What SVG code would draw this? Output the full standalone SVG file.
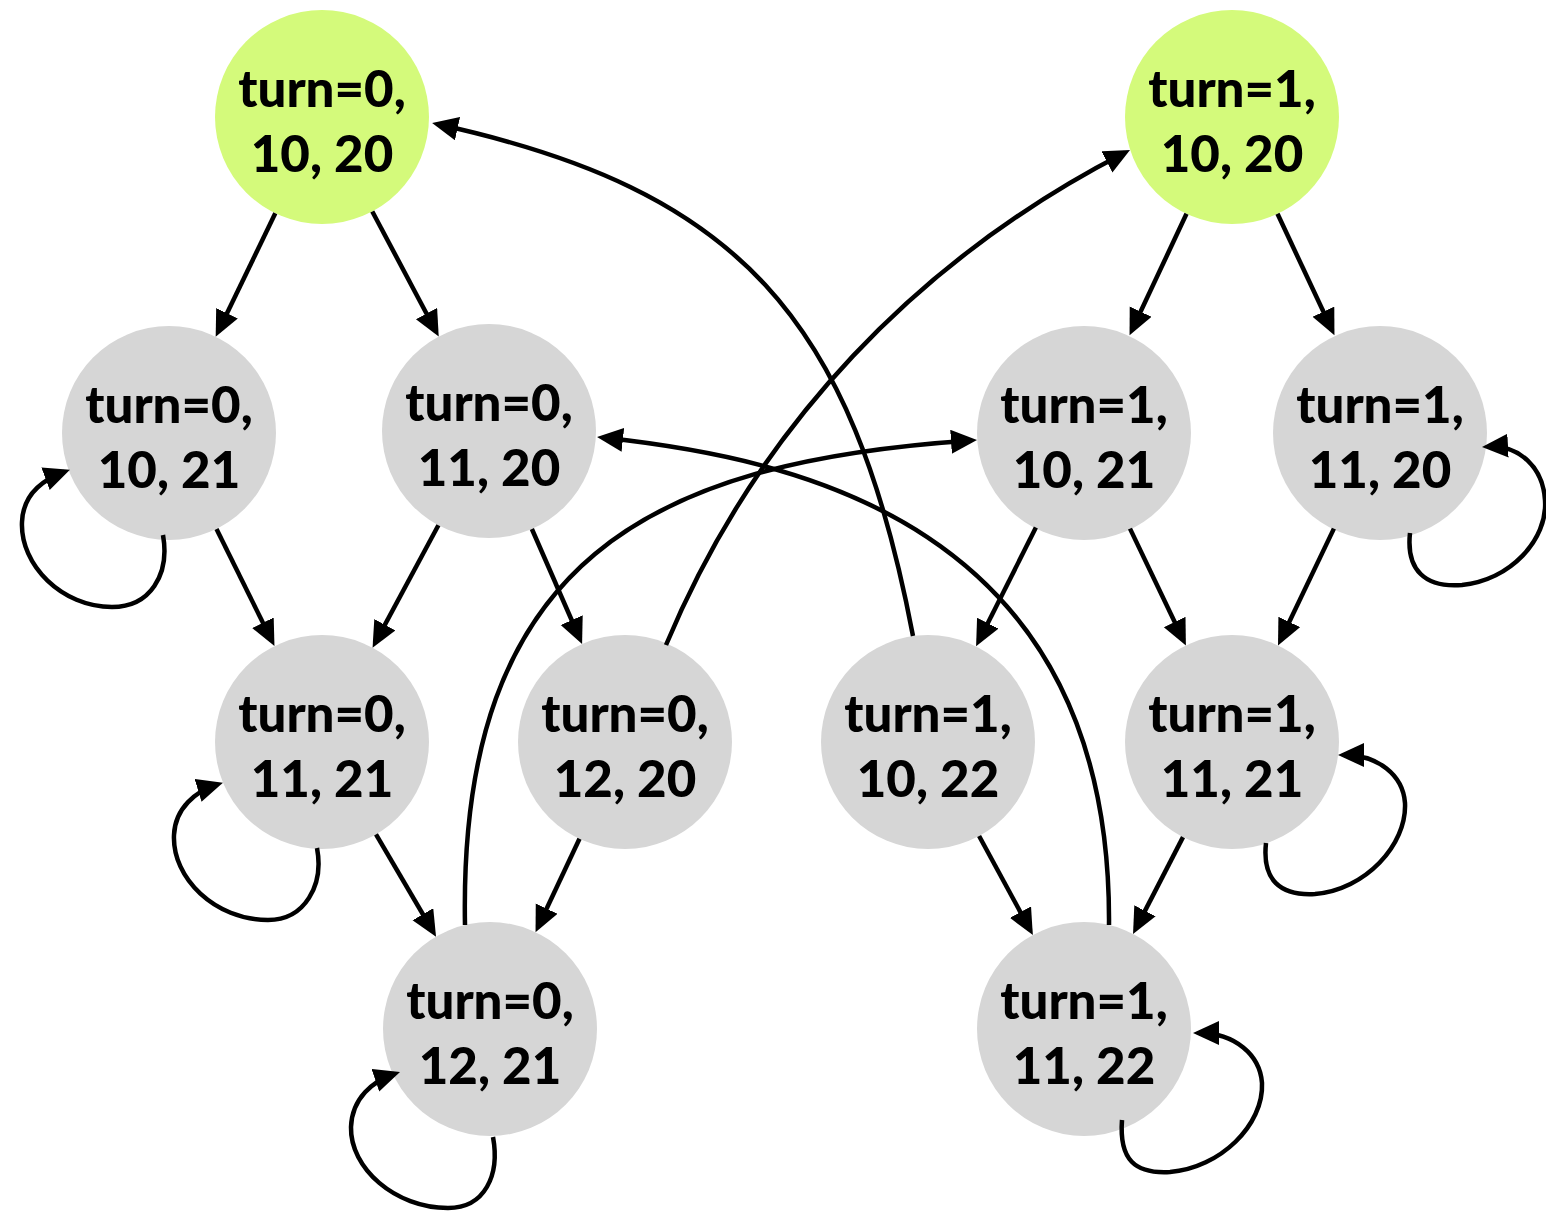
<svg xmlns="http://www.w3.org/2000/svg" width="1546" height="1212" viewBox="0 0 1546 1212">
<style>
.start{fill:#d4fa7b}
.state{fill:#d6d6d6}
.lbl{font-family:Lato,"Open Sans","Liberation Sans",sans-serif;font-weight:900;font-size:51px;fill:#000;text-anchor:middle}
.e{fill:none;stroke:#000;stroke-width:4.5;marker-end:url(#ah)}
</style>
<defs>
<marker id="ah" markerUnits="userSpaceOnUse" markerWidth="28" markerHeight="26" refX="20" refY="12" orient="auto" viewBox="0 0 28 26">
<path d="M0,0 L26,12 L0,24 Z" fill="#000"/>
</marker>
</defs>
<g id="n_t0_10_20"><circle class="start" cx="322" cy="117" r="107"/><text class="lbl" x="322" y="107">turn=0,</text><text class="lbl" x="322" y="172">10, 20</text></g>
<g id="n_t1_10_20"><circle class="start" cx="1232" cy="117" r="107"/><text class="lbl" x="1232" y="107">turn=1,</text><text class="lbl" x="1232" y="172">10, 20</text></g>
<g id="n_t0_10_21"><circle class="state" cx="169" cy="433" r="107"/><text class="lbl" x="169" y="423">turn=0,</text><text class="lbl" x="169" y="488">10, 21</text></g>
<g id="n_t0_11_20"><circle class="state" cx="489" cy="431" r="107"/><text class="lbl" x="489" y="421">turn=0,</text><text class="lbl" x="489" y="486">11, 20</text></g>
<g id="n_t1_10_21"><circle class="state" cx="1084" cy="433" r="107"/><text class="lbl" x="1084" y="423">turn=1,</text><text class="lbl" x="1084" y="488">10, 21</text></g>
<g id="n_t1_11_20"><circle class="state" cx="1380" cy="433" r="107"/><text class="lbl" x="1380" y="423">turn=1,</text><text class="lbl" x="1380" y="488">11, 20</text></g>
<g id="n_t0_11_21"><circle class="state" cx="322" cy="742" r="107"/><text class="lbl" x="322" y="732">turn=0,</text><text class="lbl" x="322" y="797">11, 21</text></g>
<g id="n_t0_12_20"><circle class="state" cx="625" cy="742" r="107"/><text class="lbl" x="625" y="732">turn=0,</text><text class="lbl" x="625" y="797">12, 20</text></g>
<g id="n_t1_10_22"><circle class="state" cx="928" cy="742" r="107"/><text class="lbl" x="928" y="732">turn=1,</text><text class="lbl" x="928" y="797">10, 22</text></g>
<g id="n_t1_11_21"><circle class="state" cx="1232" cy="742" r="107"/><text class="lbl" x="1232" y="732">turn=1,</text><text class="lbl" x="1232" y="797">11, 21</text></g>
<g id="n_t0_12_21"><circle class="state" cx="490" cy="1029" r="107"/><text class="lbl" x="490" y="1019">turn=0,</text><text class="lbl" x="490" y="1084">12, 21</text></g>
<g id="n_t1_11_22"><circle class="state" cx="1084" cy="1029" r="107"/><text class="lbl" x="1084" y="1019">turn=1,</text><text class="lbl" x="1084" y="1084">11, 22</text></g>
<g id="connectors">
<path class="e" d="M275.3,213.3 L218.3,331.3"/>
<path class="e" d="M372.3,211.5 L435.9,331.2"/>
<path class="e" d="M1186.5,213.8 L1132.1,329.8"/>
<path class="e" d="M1277.5,213.8 L1331.9,329.8"/>
<path class="e" d="M216.5,528.9 L271.8,640.7"/>
<path class="e" d="M438.4,525.3 L375.4,642.4"/>
<path class="e" d="M531.9,529 L579.7,638.5"/>
<path class="e" d="M1035.9,527.6 L978.8,641"/>
<path class="e" d="M1130,528.6 L1183.3,640"/>
<path class="e" d="M1333.9,528.6 L1280.6,640"/>
<path class="e" d="M376,834.3 L433,931.5"/>
<path class="e" d="M579.5,838.8 L538.1,926.8"/>
<path class="e" d="M979.1,836 L1030,929.7"/>
<path class="e" d="M1183,837.1 L1135.8,928.6"/>
<path class="e" d="M913,636 C852,316 738,190 438,124.3"/>
<path class="e" d="M666,645 C758,425 920,258 1124.7,152.8"/>
<path class="e" d="M465,925 C458,560 650,462 971,440.4"/>
<path class="e" d="M1109,925 C1112,520 790,458 603,437.6"/>
<path class="e" d="M163,535 C170,575 150,607 112,607 C62,607 20,565 22,522 C23,495 42,480 64.3,471.8"/>
<path class="e" d="M317,848 C324,885 305,920 268,920 C215,920 172,878 174,835 C175,808 196,791 217.2,784.6"/>
<path class="e" d="M493,1137 C500,1175 485,1208 448,1208 C395,1208 350,1168 351,1127 C352,1098 373,1081 394.3,1073.8"/>
<path class="e" d="M1410,533 C1406,570 1425,588 1462,585 C1510,580 1548,540 1545,500 C1543,468 1520,445 1488,446.7"/>
<path class="e" d="M1266,843 C1262,880 1280,896 1315,894 C1365,890 1407,845 1405,803 C1403,775 1378,755 1344,755"/>
<path class="e" d="M1122,1120 C1119,1160 1135,1174 1170,1172 C1220,1168 1264,1125 1262,1083 C1260,1055 1235,1033 1199,1033"/>
</g>
</svg>
